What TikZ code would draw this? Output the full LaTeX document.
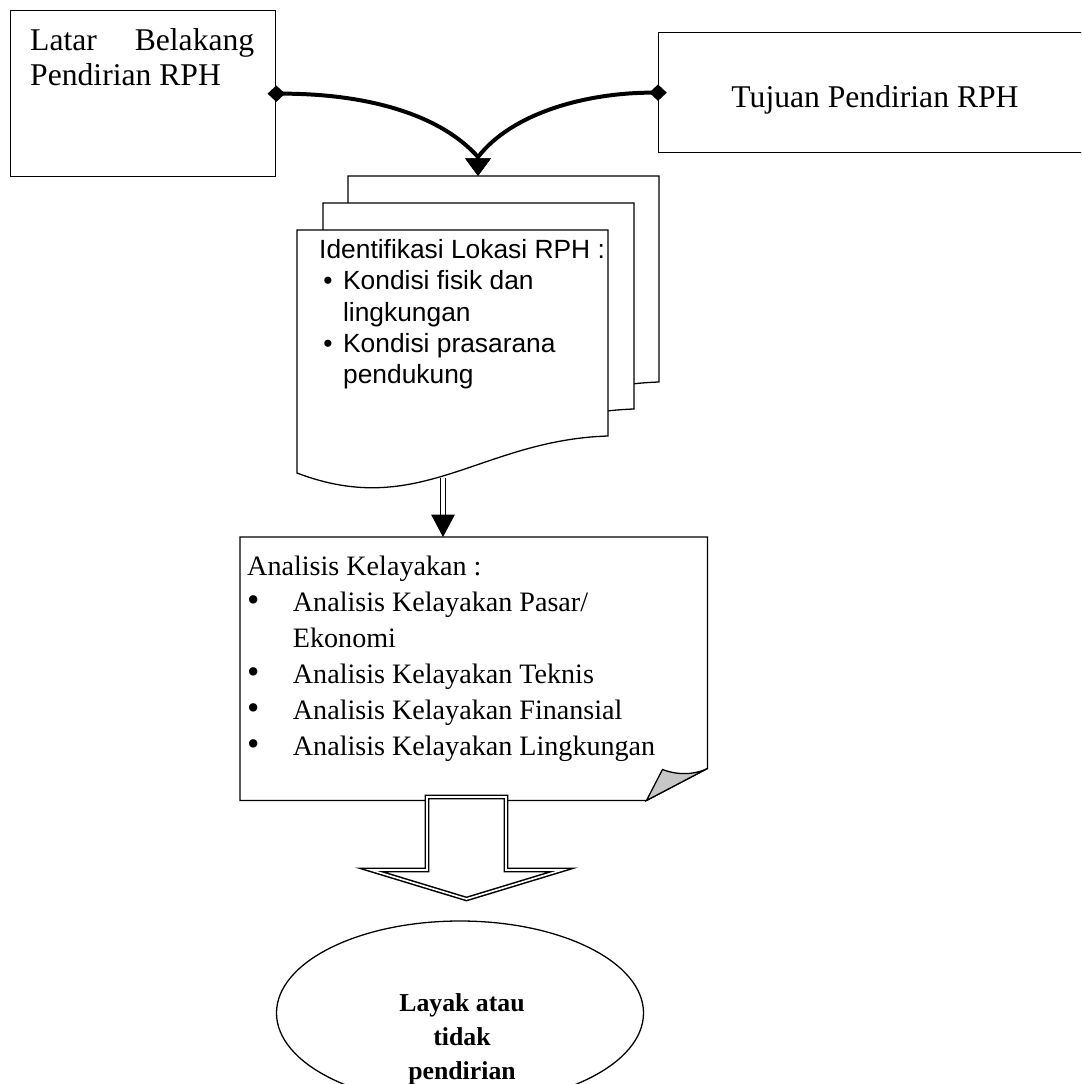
\documentclass[tikz,border=0pt]{standalone}
\usepackage{fontspec}
\setmainfont{Liberation Serif}
\newfontfamily\arialfont{Liberation Sans}
\usetikzlibrary{arrows.meta,positioning,shapes.geometric}

\begin{document}
\begin{tikzpicture}[x=0.03cm, y=-0.03cm,
  box/.style={draw, line width=1.1pt, anchor=north west, inner sep=0pt},
  page/.style={draw, line width=1.1pt, fill=white},
  toptext/.style={inner sep=0pt, font=\fontsize{27}{29.75}\selectfont},
  doctext/.style={inner sep=0pt, align=left, font=\arialfont\fontsize{22.5}{26.8}\selectfont},
  anltext/.style={inner sep=0pt, align=left, font=\fontsize{24}{30.6}\selectfont},
  endtext/.style={inner sep=0pt, align=center, font=\bfseries\fontsize{22}{29}\selectfont},
  joinarr/.style={line width=3.4pt, {Diamond[length=15pt,width=14pt]}-{Triangle[length=15pt,width=21pt]}, shorten <=-7.5pt},
  dblarr/.style={double, double distance=4pt, line width=0.9pt, -{Triangle[length=19pt,width=20pt]}},
  fatarr/.style={draw, line width=1.3pt, double, double distance=1.4pt, fill=white}
]
\useasboundingbox (0,0) rectangle (1081,1084);
\clip (0,0) rectangle (1081,1084);

% top boxes
\node[box, minimum width=7.95cm, minimum height=4.98cm] (latar) at (10,10) {};
\node[box, minimum width=12.96cm, minimum height=3.6cm] (tujuan) at (658,32) {};
\node[toptext, anchor=north west, text width=6.72cm, align=justify] (latarlbl) at (30,28) {Latar Belakang Pendirian RPH};
\node[toptext, anchor=base] (tujuanlbl) at (875,107) {Tujuan Pendirian RPH};

% document stack
\foreach \dx/\dy in {51/-54,26/-27,0/0}
  \draw[page, shift={(\dx,\dy)}] (297,230) -- (608,230) -- (608,436)
    .. controls (480,440) and (420,520) .. (297,473) -- cycle;
\node[doctext, anchor=north west] (ident) at (319,239) {Identifikasi Lokasi RPH :\\
  \makebox[20.4pt][l]{\hspace{3.5pt}•}Kondisi fisik dan\\
  \hspace*{20.4pt}lingkungan\\
  \makebox[20.4pt][l]{\hspace{3.5pt}•}Kondisi prasarana\\
  \hspace*{20.4pt}pendukung};
\coordinate (doctop) at (478,176);
\coordinate (docmeet) at (478,157);
\coordinate (docbot) at (443,478);

% analysis box with folded corner
\node[anchor=north west, inner sep=0pt, minimum width=14.01cm, minimum height=7.89cm] (anal) at (240,537) {};
\draw[line width=1.1pt] (anal.north west) -- (anal.north east) -- ([yshift=0.96cm]anal.south east)
  -- ([xshift=-1.83cm]anal.south east) -- (anal.south west) -- cycle;
\filldraw[line width=1.1pt, fill=black!22] ([xshift=-1.83cm]anal.south east)
  -- ([xshift=-1.35cm,yshift=0.93cm]anal.south east)
  .. controls ([xshift=-0.81cm,yshift=0.72cm]anal.south east) and ([xshift=-0.3cm,yshift=0.81cm]anal.south east)
  .. ([yshift=0.96cm]anal.south east) -- cycle;
\node[anltext, anchor=north west] (anallbl) at (247,556) {Analisis Kelayakan :\\
  \makebox[39pt][l]{\fontsize{30}{30.6}\selectfont•}Analisis Kelayakan Pasar/\\
  \hspace*{39pt}Ekonomi\\
  \makebox[39pt][l]{\fontsize{30}{30.6}\selectfont•}Analisis Kelayakan Teknis\\
  \makebox[39pt][l]{\fontsize{30}{30.6}\selectfont•}Analisis Kelayakan Finansial\\
  \makebox[39pt][l]{\fontsize{30}{30.6}\selectfont•}Analisis Kelayakan Lingkungan};

% result
\node[draw, ellipse, line width=1.1pt, minimum width=11.01cm, minimum height=5.52cm] (layak) at (460,1013) {};
\node[endtext, anchor=north] (layaklbl) at (462,993) {Layak atau\\tidak\\pendirian};

% connectors
\draw[joinarr] (latar.east) .. controls +(85,0) and +(-40,-45) .. (docmeet) -- (doctop);
\draw[joinarr] (tujuan.west) .. controls +(-70,0) and +(35,-45) .. (docmeet) -- (doctop);
\draw[dblarr] (docbot) -- (docbot |- anal.north);
\coordinate (fattop) at (466.5,797);
\draw[fatarr] (fattop) ++(-39.5,0) -- ++(79,0) -- ++(0,73) -- ++(56,0) -- ++(-95.5,29)
  -- ++(-95.5,-29) -- ++(56,0) -- cycle;
\end{tikzpicture}
\end{document}
